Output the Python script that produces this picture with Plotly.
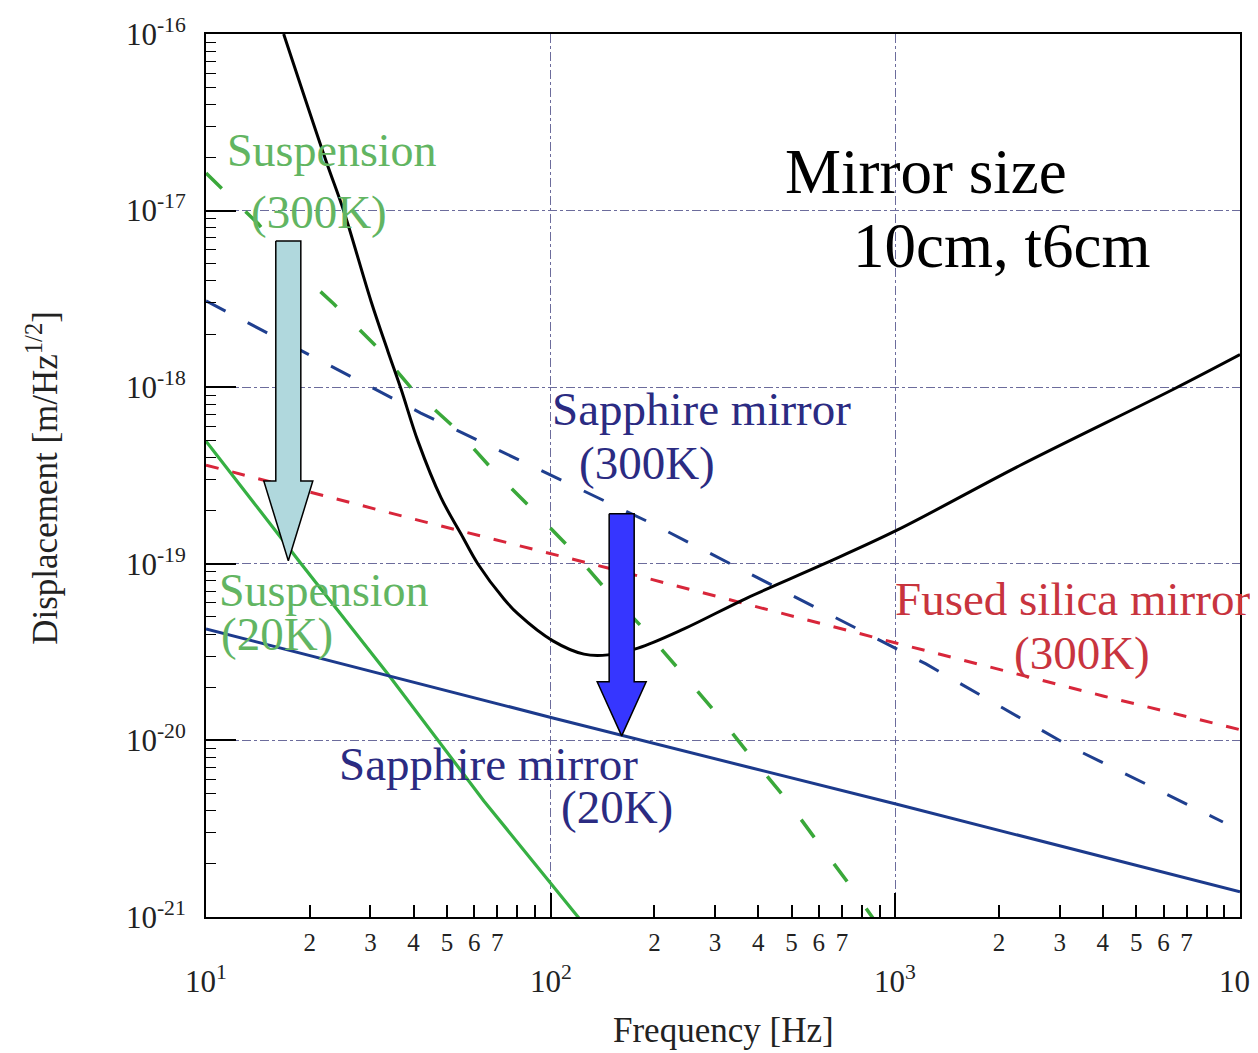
import numpy as np
import plotly.graph_objects as go

# ---------------- data ----------------
# Total noise (black solid)
total_f = [16.8, 22.3, 25.1, 30.1, 33.7, 36.8, 41.2, 48.1, 54.9, 61.5, 73.2, 80.4,
           101.5, 124.9, 146.6, 179.2, 243.6, 371, 620.8, 1011, 2283, 6431, 10000]
total_v = [1.0e-16, 1.91e-17, 9.95e-18, 3.08e-18, 1.60e-18, 9.77e-19, 4.95e-19, 2.36e-19,
           1.48e-19, 9.98e-20, 6.32e-20, 5.20e-20, 3.66e-20, 3.08e-20, 3.05e-20, 3.33e-20,
           4.28e-20, 6.40e-20, 9.98e-20, 1.55e-19, 3.58e-19, 9.77e-19, 1.53e-18]

# Suspension (300K) green dashed
sus300_f = [10, 14.2, 18.5, 23.5, 31.1, 39.6, 53.1, 67.6, 88.3, 114.5, 141.8, 186.5,
            240.4, 307.8, 383.7, 481.6, 592.5, 733.5, 861]
sus300_v = [1.63e-17, 8.39e-18, 4.55e-18, 2.96e-18, 1.71e-18, 9.77e-19, 5.80e-19, 3.44e-19,
            2.04e-19, 1.21e-19, 7.48e-20, 4.27e-20, 2.41e-20, 1.37e-20, 7.94e-21, 4.66e-21,
            2.69e-21, 1.54e-21, 9.86e-22]

# Suspension (20K) green solid
sus20_f = [10, 18.9, 33.7, 64.0, 120.8]
sus20_v = [4.95e-19, 9.98e-20, 2.38e-20, 4.54e-21, 9.86e-22]

# Sapphire mirror (300K) navy dashed
sap300_f = [10, 42.0, 195.4, 1227, 3231, 8920]
sap300_v = [3.08e-18, 7.14e-19, 1.70e-19, 2.71e-20, 9.18e-21, 3.45e-21]

# Sapphire mirror (20K) navy solid
sap20_f = [10, 33.7, 101.5, 381, 1004, 10000]
sap20_v = [4.28e-20, 2.32e-20, 1.34e-20, 7.0e-21, 4.36e-21, 1.39e-21]

# Fused silica mirror (300K) red dashed
fs300_f = [10, 42.0, 146.6, 1004, 4030, 10000]
fs300_v = [3.62e-19, 1.75e-19, 9.46e-20, 3.56e-20, 1.78e-20, 1.15e-20]

# Axis ticks
x_decades = [10, 100, 1000, 10000]
x_major_text = ["10<sup>1</sup>", "10<sup>2</sup>", "10<sup>3</sup>", "10<sup>4</sup>"]
x_minor_digits = [2, 3, 4, 5, 6, 7, 8, 9]
x_minor_text = ["2", "3", "4", "5", "6", "7", "", ""]
y_decades = [1e-21, 1e-20, 1e-19, 1e-18, 1e-17, 1e-16]
y_major_text = ["10<sup>-21</sup>", "10<sup>-20</sup>", "10<sup>-19</sup>",
                "10<sup>-18</sup>", "10<sup>-17</sup>", "10<sup>-16</sup>"]

# Text labels: (text, freq, value, color, xanchor, size)
GREEN_T = "#62b562"
NAVY_T = "#2b2b82"
RED_T = "#c8343e"
labels = [
    ("Suspension", 23.2, 2.18e-17, GREEN_T, "center", 46),
    ("(300K)", 21.3, 9.82e-18, GREEN_T, "center", 47),
    ("Suspension", 10.76, 7.02e-20, GREEN_T, "left", 46),
    ("(20K)", 10.9, 4.0e-20, GREEN_T, "left", 47),
    ("Sapphire mirror", 274.8, 7.53e-19, NAVY_T, "center", 47),
    ("(300K)", 190.3, 3.72e-19, NAVY_T, "center", 47),
    ("Sapphire mirror", 66.2, 7.35e-21, NAVY_T, "center", 47),
    ("(20K)", 155.8, 4.2e-21, NAVY_T, "center", 47),
    ("Fused silica mirror", 984, 6.32e-20, RED_T, "left", 47),
    ("(300K)", 3478, 3.13e-20, RED_T, "center", 47),
    ("Mirror size", 472, 1.66e-17, "black", "left", 63),
    ("10cm, t6cm", 743, 6.3e-18, "black", "left", 63),
]

# Yellow box corners (freq, value)
box_f = [415.7, 6220]
box_v = [3.41e-18, 3.26e-17]

# Arrows: tip freq, tip value, head-base value, tail value, fill
arrows = [
    (17.33, 1.04e-19, 2.94e-19, 6.73e-18, "#b0d8dd"),
    (160.7, 1.06e-20, 2.15e-20, 1.92e-19, "#3636ff"),
]
SHAFT_HW = 0.0363   # decades
HEAD_HW = 0.0711    # decades

FONT = "Liberation Serif, Times New Roman, serif"

fig = go.Figure()

def add_line(f, v, color, width, dash, shape="linear"):
    fig.add_trace(go.Scatter(x=f, y=v, mode="lines",
                             line=dict(color=color, width=width, dash=dash, shape=shape),
                             hoverinfo="skip", showlegend=False))

add_line(sap300_f, sap300_v, "#1f3f8f", 3, "22px,25px")
add_line(fs300_f, fs300_v, "#d8263a", 3, "13px,14px")
add_line(sus300_f, sus300_v, "#3aa83a", 3.5, "22px,33px")
add_line(sus20_f, sus20_v, "#36b043", 3.2, "solid")
add_line(sap20_f, sap20_v, "#1c3a8c", 3, "solid")
add_line(total_f, total_v, "black", 3, "solid", "spline")

for tip_f, tip_v, base_v, tail_v, fill in arrows:
    lx = np.log10(tip_f)
    xs = np.array([lx - SHAFT_HW, lx + SHAFT_HW, lx + SHAFT_HW, lx + HEAD_HW, lx,
                   lx - HEAD_HW, lx - SHAFT_HW, lx - SHAFT_HW])
    ys = [tail_v, tail_v, base_v, base_v, tip_v, base_v, base_v, tail_v]
    fig.add_trace(go.Scatter(x=10 ** xs, y=ys, mode="lines", fill="toself",
                             fillcolor=fill, line=dict(color="black", width=1.5),
                             hoverinfo="skip", showlegend=False))

annotations = []
for text, f, v, color, xa, size in labels:
    annotations.append(dict(x=np.log10(f), y=np.log10(v), xref="x", yref="y",
                            text=text, showarrow=False, xanchor=xa, yanchor="middle",
                            font=dict(family=FONT, size=size, color=color)))
for val, txt in zip(x_decades, x_major_text):
    annotations.append(dict(x=np.log10(val), y=-0.071, xref="x", yref="paper",
                            text=txt, showarrow=False, xanchor="center", yanchor="middle",
                            font=dict(family=FONT, size=31, color="#222")))
annotations.append(dict(x=0.5, y=-0.129, xref="paper", yref="paper",
                        text="Frequency [Hz]", showarrow=False,
                        xanchor="center", yanchor="middle",
                        font=dict(family=FONT, size=35, color="#222")))
annotations.append(dict(x=-0.158, y=0.497, xref="paper", yref="paper",
                        text="Displacement [m/Hz<sup>1/2</sup>]", showarrow=False,
                        textangle=-90, xanchor="center", yanchor="middle",
                        font=dict(family=FONT, size=35, color="#222")))

x_tickvals = []
x_ticktext = []
for d in x_decades:
    x_tickvals.append(d)
    x_ticktext.append("")
    if d < 10000:
        for m, t in zip(x_minor_digits, x_minor_text):
            x_tickvals.append(d * m)
            x_ticktext.append(t)

y_minor_vals = [d * m for d in y_decades[:-1] for m in x_minor_digits]

GRID = "#6c6c9c"
fig.update_layout(
    width=1258, height=1053,
    margin=dict(l=198, r=26, t=26, b=144),
    paper_bgcolor="white", plot_bgcolor="white",
    showlegend=False,
    annotations=annotations,
    shapes=[dict(type="rect", xref="x", yref="y",
                 x0=np.log10(box_f[0]), x1=np.log10(box_f[1]),
                 y0=np.log10(box_v[0]), y1=np.log10(box_v[1]),
                 fillcolor="#ffff66", line=dict(width=0), layer="above")],
    xaxis=dict(type="log", range=[1, 4], showline=True, linecolor="black",
               linewidth=2, mirror=True, ticks="inside", ticklen=12, tickwidth=1.5,
               tickcolor="black", tickvals=x_tickvals, ticktext=x_ticktext,
               tickfont=dict(family=FONT, size=25, color="#222"), automargin=False,
               ticklabelstandoff=2, showgrid=False, zeroline=False,
               minor=dict(tickmode="array", tickvals=x_decades, ticks="inside",
                          ticklen=24, tickwidth=1.5, tickcolor="black",
                          showgrid=True, gridcolor=GRID, griddash="dashdot",
                          gridwidth=1)),
    yaxis=dict(type="log", range=[-21, -16], showline=True, linecolor="black",
               linewidth=2, mirror=True, ticks="inside", ticklen=30, tickwidth=1.5,
               tickcolor="black", tickvals=y_decades, ticktext=y_major_text,
               tickfont=dict(family=FONT, size=31, color="#222"), automargin=False,
               ticklabelstandoff=12, showgrid=True, gridcolor=GRID,
               griddash="dashdot", gridwidth=1, zeroline=False,
               minor=dict(tickmode="array", tickvals=y_minor_vals, ticks="inside",
                          ticklen=10, tickwidth=1.2, tickcolor="black",
                          showgrid=False)),
)

fig.write_html("out.html")
